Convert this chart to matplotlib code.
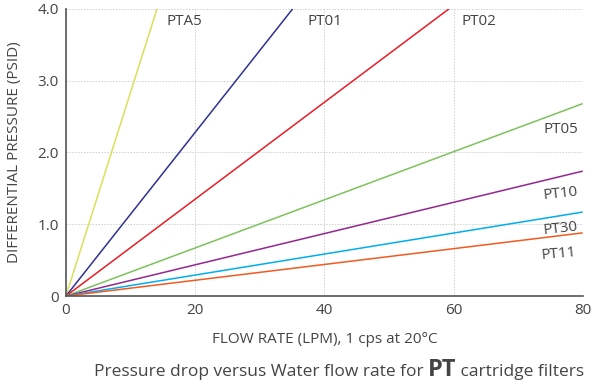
import matplotlib
matplotlib.use("Agg")
import matplotlib.pyplot as plt

# each filter curve is a straight line from the origin; end points
names = ["PTA5", "PT01", "PT02", "PT05", "PT10", "PT30", "PT11"]
flow_end = [14.1, 35.1, 59.3, 80.0, 80.0, 80.0, 80.0]
dp_end = [4.0, 4.0, 4.0, 2.68, 1.74, 1.17, 0.88]
colors = ["#d9e05a", "#2e3192", "#ed1c24", "#7cc35e", "#93278f", "#00aeef", "#f15a22"]

# label anchors (x, y, rotation, ha)
label_pos = [(15.6, 3.82, 0, "left"), (37.4, 3.82, 0, "left"), (61.2, 3.82, 0, "left"),
             (79.3, 2.32, 0, "right"), (79.3, 1.45, 6, "right"), (79.3, 0.96, 6, "right"),
             (78.9, 0.61, 5, "right")]

yticks = [0, 1, 2, 3, 4]
ytick_labels = ["0", "1.0", "2.0", "3.0", "4.0"]
xticks = [0, 20, 40, 60, 80]

plt.rcParams["font.family"] = ["Open Sans", "DejaVu Sans"]
TXT = "#444444"

fig = plt.figure(figsize=(5.94, 3.84), dpi=100)
ax = fig.add_axes([0.111, 0.229, 0.870, 0.748])

for n, x1, y1, c in zip(names, flow_end, dp_end, colors):
    ax.plot([0, x1], [0, y1], color=c, lw=1.1, solid_capstyle="butt")

for n, (lx, ly, rot, ha) in zip(names, label_pos):
    ax.text(lx, ly, n, fontsize=11, color=TXT, rotation=rot, ha=ha, va="center",
            rotation_mode="anchor")

ax.set_xlim(0, 80)
ax.set_ylim(0, 4)
ax.set_xticks(xticks)
ax.set_yticks(yticks)
ax.set_yticklabels(ytick_labels)
ax.tick_params(length=0, labelsize=11, labelcolor=TXT, pad=5)
ax.grid(True, color="#cfcfcf", ls=(0, (1.5, 1.5)), lw=0.7)
for s in ["top", "right"]:
    ax.spines[s].set_visible(False)
for s in ["left", "bottom"]:
    ax.spines[s].set_color("#555555")
    ax.spines[s].set_linewidth(1.2)

ax.set_ylabel("DIFFERENTIAL PRESSURE (PSID)", fontsize=11, color=TXT, labelpad=11)
ax.set_xlabel("FLOW RATE (LPM), 1 cps at 20°C", fontsize=11, color=TXT, labelpad=10)

# caption with bold "PT"
fig.canvas.draw()
r = fig.canvas.get_renderer()
parts = [("Pressure drop versus Water flow rate for ", "normal", 12.5),
         ("PT", "bold", 17),
         (" cartridge filters", "normal", 12.5)]
texts = []
x = 0
for s, w, fs in parts:
    t = fig.text(x, 0.022, s, fontsize=fs, fontweight=w, color=TXT, ha="left", va="baseline")
    texts.append(t)
    x += t.get_window_extent(r).width / fig.bbox.width
total = x
x = 0.571 - total / 2
for t in texts:
    t.set_x(x)
    x += t.get_window_extent(r).width / fig.bbox.width

fig.savefig("out.png", dpi=100)
